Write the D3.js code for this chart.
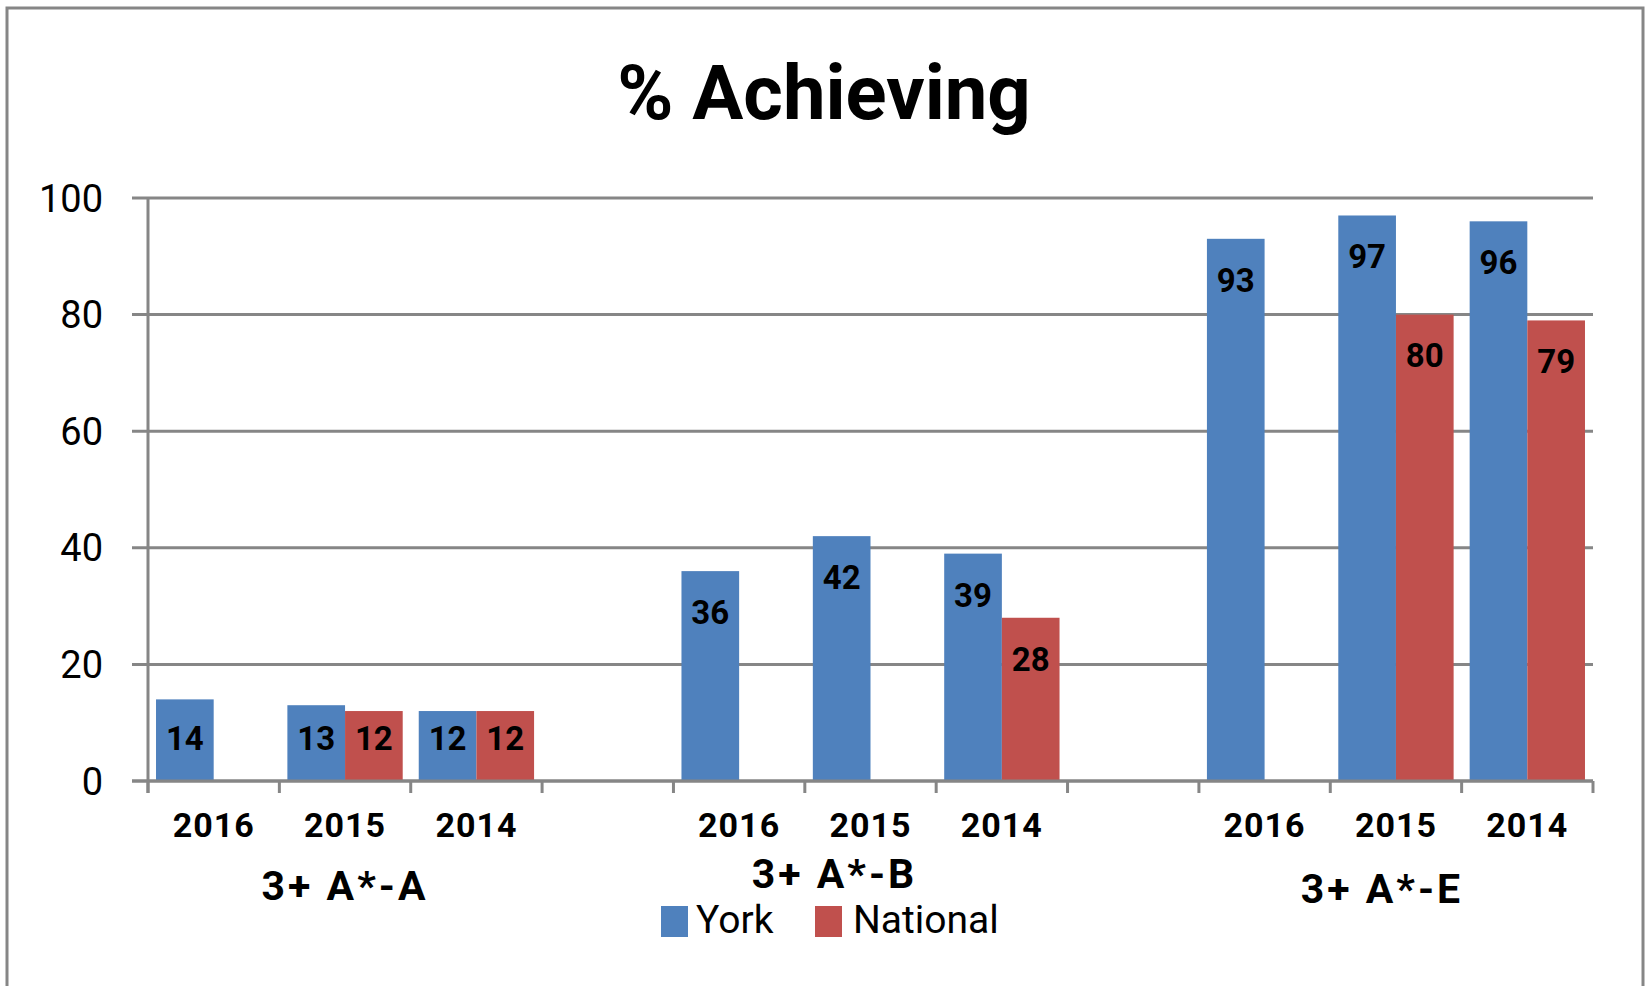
<!DOCTYPE html>
<html>
<head>
<meta charset="utf-8">
<script src="https://cdn.jsdelivr.net/npm/d3@7"></script>
<style>
  body { margin: 0; background: #fff; }
  svg { display: block; }
</style>
</head>
<body>
<script>
// data
var groupNames = ["3+ A*-A", "3+ A*-B", "3+ A*-E"];
var years = ["2016", "2015", "2014"];
var seriesNames = ["York", "National"];
var yorkValues = [14, 13, 12, 36, 42, 39, 93, 97, 96];
var nationalValues = [null, 12, 12, null, null, 28, null, 80, 79];
var yTicks = [0, 20, 40, 60, 80, 100];

var colors = { York: "#4F81BD", National: "#C0504D" };
var gridColor = "#868686";

var W = 1648, H = 986;
var plotLeft = 148, plotRight = 1593, plotBottom = 781, plotTop = 198;

// group label tweaks (Excel does not centre them exactly)
var groupLabelShift = [0, -36, -14];
var groupLabelBase = [900, 888, 903];

// one slot per year, with an empty slot between groups
var slots = [];
groupNames.forEach(function(g, gi) {
  years.forEach(function(yr, yi) {
    var k = gi * 3 + yi;
    slots.push({ key: g + "|" + yr, group: gi, year: yr,
                 York: yorkValues[k], National: nationalValues[k] });
  });
  if (gi < groupNames.length - 1) slots.push({ key: "gap" + gi, group: gi, year: "", York: null, National: null });
});

var svg = d3.select("body").append("svg")
  .attr("width", W)
  .attr("height", H);

// outer frame
svg.append("rect")
  .attr("x", 7).attr("y", 8)
  .attr("width", 1636).attr("height", 1000)
  .style("fill", "none")
  .style("stroke", gridColor)
  .style("stroke-width", 3);

// title
svg.append("text")
  .attr("x", 824).attr("y", 119)
  .attr("text-anchor", "middle")
  .style("font-family", "Roboto")
  .style("font-weight", "bold")
  .style("font-size", "76px")
  .text("% Achieving");

var x0 = d3.scaleBand()
  .domain(slots.map(function(d) { return d.key; }))
  .range([plotLeft, plotRight])
  .padding(0);

var x1 = d3.scaleBand()
  .domain(seriesNames)
  .range([0, x0.bandwidth()])
  .paddingInner(0)
  .paddingOuter(0.139);

var y = d3.scaleLinear().domain([0, 100]).range([plotBottom, plotTop]);

// gridlines + y ticks
svg.selectAll(".grid")
  .data(yTicks)
  .enter().append("line")
  .attr("class", "grid")
  .attr("x1", plotLeft - 16)
  .attr("x2", plotRight)
  .attr("y1", function(d) { return y(d); })
  .attr("y2", function(d) { return y(d); })
  .style("stroke", gridColor)
  .style("stroke-width", 3);

svg.selectAll(".ylab")
  .data(yTicks)
  .enter().append("text")
  .attr("class", "ylab")
  .attr("x", 103)
  .attr("y", function(d) { return y(d); })
  .attr("dy", "0.36em")
  .attr("text-anchor", "end")
  .style("font-family", "Roboto")
  .style("font-size", "38px")
  .text(function(d) { return d; });

// y axis line
svg.append("line")
  .attr("x1", plotLeft).attr("x2", plotLeft)
  .attr("y1", plotTop).attr("y2", plotBottom + 12)
  .style("stroke", gridColor)
  .style("stroke-width", 3);

// bars
var bars = [];
slots.forEach(function(s) {
  seriesNames.forEach(function(n) {
    if (s[n] != null) bars.push({ key: s.key, series: n, value: s[n] });
  });
});

svg.selectAll(".bar")
  .data(bars)
  .enter().append("rect")
  .attr("class", "bar")
  .attr("x", function(d) { return x0(d.key) + x1(d.series); })
  .attr("width", x1.bandwidth())
  .attr("y", function(d) { return y(d.value); })
  .attr("height", function(d) { return y(0) - y(d.value); })
  .style("fill", function(d) { return colors[d.series]; });

// value labels near the top, but short bars keep them at one height
svg.selectAll(".vlab")
  .data(bars)
  .enter().append("text")
  .attr("class", "vlab")
  .attr("x", function(d) { return x0(d.key) + x1(d.series) + x1.bandwidth() / 2; })
  .attr("y", function(d) { return Math.min(y(d.value) + 41, plotBottom - 43); })
  .attr("dy", "0.36em")
  .attr("text-anchor", "middle")
  .style("font-family", "Roboto")
  .style("font-weight", "bold")
  .style("font-size", "33px")
  .text(function(d) { return d.value; });

// x axis line (drawn over bar bottoms)
svg.append("line")
  .attr("x1", plotLeft - 16).attr("x2", plotRight)
  .attr("y1", plotBottom).attr("y2", plotBottom)
  .style("stroke", gridColor)
  .style("stroke-width", 3);

// category boundary ticks
var tickXs = slots.map(function(s) { return x0(s.key); }).concat([plotRight]);
svg.selectAll(".xtick")
  .data(tickXs)
  .enter().append("line")
  .attr("class", "xtick")
  .attr("x1", function(d) { return d; })
  .attr("x2", function(d) { return d; })
  .attr("y1", plotBottom)
  .attr("y2", plotBottom + 12)
  .style("stroke", gridColor)
  .style("stroke-width", 3);

// year labels
svg.selectAll(".year")
  .data(slots.filter(function(s) { return s.year !== ""; }))
  .enter().append("text")
  .attr("class", "year")
  .attr("x", function(d) { return x0(d.key) + x0.bandwidth() / 2; })
  .attr("y", 837)
  .attr("text-anchor", "middle")
  .style("font-family", "Roboto")
  .style("font-weight", "bold")
  .style("font-size", "34px")
  .style("letter-spacing", "1px")
  .text(function(d) { return d.year; });

// group labels
svg.selectAll(".group")
  .data(groupNames)
  .enter().append("text")
  .attr("class", "group")
  .attr("x", function(g, i) {
    var first = x0(g + "|" + years[0]);
    var last = x0(g + "|" + years[years.length - 1]) + x0.bandwidth();
    return (first + last) / 2 + groupLabelShift[i];
  })
  .attr("y", function(g, i) { return groupLabelBase[i]; })
  .attr("text-anchor", "middle")
  .style("font-family", "Roboto")
  .style("font-weight", "bold")
  .style("font-size", "41px")
  .style("letter-spacing", "3px")
  .text(function(g) { return g; });

// legend
var legendX = [661, 815];
var legend = svg.selectAll(".legend")
  .data(seriesNames)
  .enter().append("g")
  .attr("class", "legend")
  .attr("transform", function(d, i) { return "translate(" + legendX[i] + ",906)"; });

legend.append("rect")
  .attr("width", 27)
  .attr("height", 31)
  .style("fill", function(d) { return colors[d]; });

legend.append("text")
  .attr("x", function(d, i) { return i === 0 ? 35 : 38; })
  .attr("y", 27)
  .style("font-family", "Roboto")
  .style("font-size", "39px")
  .text(function(d) { return d; });
</script>
</body>
</html>
